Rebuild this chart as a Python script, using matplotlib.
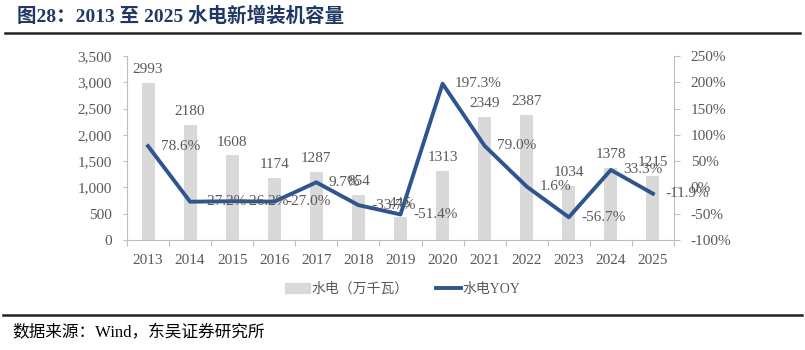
import matplotlib.pyplot as plt
from matplotlib.patches import Patch
from matplotlib.lines import Line2D
from matplotlib.ticker import FuncFormatter

plt.rcParams['font.family'] = ['Liberation Serif', 'Noto Sans CJK SC']

anos = ['2013', '2014', '2015', '2016', '2017', '2018', '2019',
        '2020', '2021', '2022', '2023', '2024', '2025']
capacidade = [2993, 2180, 1608, 1174, 1287, 854, 445, 1313, 2349, 2387, 1034, 1378, 1215]
yoy = [78.6, -27.2, -26.2, -27.0, 9.7, -33.7, -51.4, 197.3, 79.0, 1.6, -56.7, 33.3, -11.9]

cor_barra = '#D9D9D9'
cor_linha = '#2F5590'
cor_texto = '#595959'
cor_eixo = '#BFBFBF'

fig = plt.figure(figsize=(8.05, 3.5), dpi=100)
ax = fig.add_axes([127/805, 1-240/350, (674-127)/805, (240-56)/350])
x = list(range(len(anos)))

ax.bar(x, capacidade, width=0.31, color=cor_barra, zorder=1)
for i, v in enumerate(capacidade):
    ax.annotate(str(v), (i, v), xytext=(0, 5), textcoords='offset points',
                ha='center', va='bottom', fontsize=11, color=cor_texto)

ax.set_xlim(-0.5, len(anos) - 0.5)
ax.set_ylim(0, 3500)
ax.set_yticks(range(0, 3501, 500))
ax.yaxis.set_major_formatter(FuncFormatter(lambda v, p: f'{int(v):,}'))
ax.set_xticks([i - 0.5 for i in range(len(anos) + 1)])
ax.set_xticklabels([])
ax.set_xticks(x, minor=True)
ax.set_xticklabels(anos, minor=True)
ax.tick_params(axis='x', which='major', length=4, color=cor_eixo)
ax.tick_params(axis='x', which='minor', length=0, pad=10, labelsize=11, labelcolor=cor_texto)
ax.tick_params(axis='y', length=3, color=cor_eixo, pad=8, labelsize=11, labelcolor=cor_texto)
for s in ['top', 'right']:
    ax.spines[s].set_visible(False)
for s in ['left', 'bottom']:
    ax.spines[s].set_color(cor_eixo)

ax2 = ax.twinx()
ax2.plot(x, yoy, color=cor_linha, linewidth=2.8, zorder=3)
for i, v in enumerate(yoy):
    ax2.annotate(f'{v:.1f}%', (i, v), xytext=(9, 0), textcoords='offset points',
                 ha='left', va='center', fontsize=11, color=cor_texto)
ax2.set_ylim(-100, 250)
ax2.set_yticks(range(-100, 251, 50))
ax2.yaxis.set_major_formatter(FuncFormatter(lambda v, p: f'{int(v)}%'))
ax2.tick_params(axis='y', length=4, color=cor_eixo, pad=8, labelsize=11, labelcolor=cor_texto)
for s in ['top', 'left', 'bottom']:
    ax2.spines[s].set_visible(False)
ax2.spines['right'].set_color(cor_eixo)

handles = [Patch(color=cor_barra), Line2D([0], [0], color=cor_linha, linewidth=2.8)]
fig.legend(handles, ['水电（万千瓦）', '水电YOY'], loc='center', bbox_to_anchor=(0.5, 1-289/350),
           ncol=2, frameon=False, fontsize=10, labelcolor=cor_texto, handlelength=1.8,
           handletextpad=0.1, columnspacing=2.0)

fig.text(17/805, 1-16/350, '图28：2013 至 2025 水电新增装机容量', fontsize=14, fontweight='bold',
         color='#1F3864', ha='left', va='center')
fig.add_artist(Line2D([5/805, 800/805], [1-33/350, 1-33/350], color='#222222', linewidth=1.8))
fig.add_artist(Line2D([3/805, 802/805], [1-315/350, 1-315/350], color='#222222', linewidth=1.8))
fig.text(12/805, 1-333/350, '数据来源：Wind，东吴证券研究所', fontsize=12, color='#000000',
         ha='left', va='center')

fig.savefig('out.png', dpi=100)
